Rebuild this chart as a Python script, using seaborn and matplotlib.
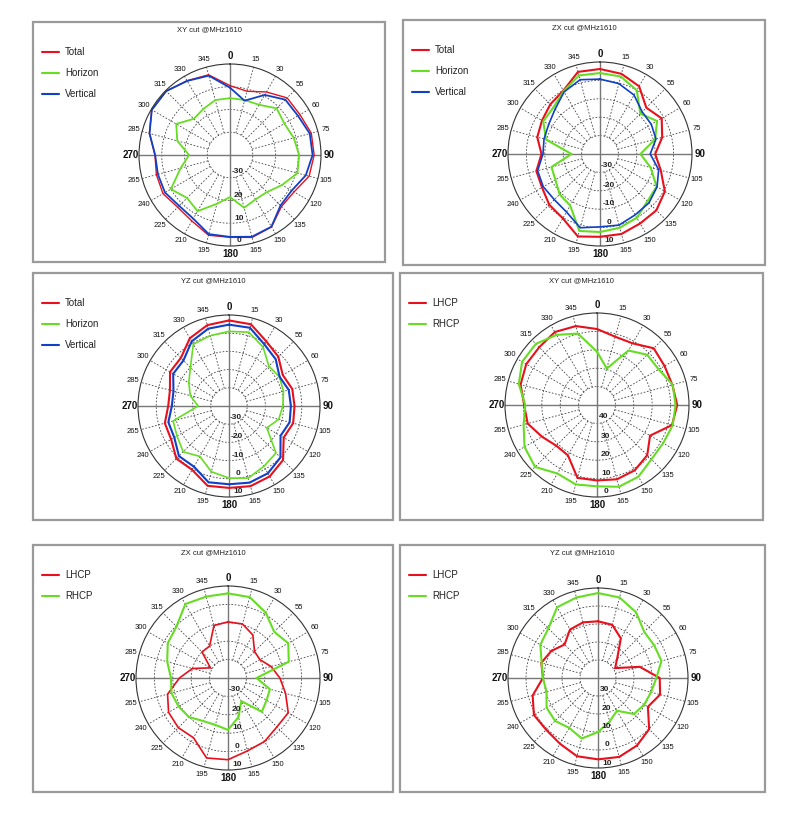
import numpy as np
import pandas as pd
import matplotlib
matplotlib.use("Agg")
import matplotlib.pyplot as plt
import seaborn as sns
from matplotlib.patches import Rectangle

sns.set_style("white")
plt.rcParams['font.family'] = ['Liberation Sans', 'DejaVu Sans']

angles = list(range(0, 360, 15))
angle_labels = ["0", "15", "30", "55", "60", "75", "90", "105", "120", "135", "150", "165",
                "180", "195", "210", "225", "240", "265", "270", "285", "300", "315", "330", "345"]

# Panel 1: XY cut, linear
xy_total = [-9.5, -11, -8, -4.5, -4.5, -3, -3, -4, -7.5, -8, -3.5, -2.5,
            -3.8, -3.5, -6.5, -7.5, -6, -6.5, -7, -3.3, -0.3, -0.3, -2.3, -3.5]
xy_horizon = [-15, -15, -14.5, -11, -12.4, -11, -9.6, -9.3, -13.6, -17, -17.5, -16,
              -21.5, -17.8, -11.5, -13.3, -10, -17.5, -22, -16, -12.7, -17.5, -16.6, -15]
xy_vertical = [-10.4, -15.3, -9.5, -5.6, -5.5, -3.7, -3.7, -5.5, -8.7, -8.6, -3.6, -2.8,
               -4, -4, -7.7, -8.4, -7, -7.2, -7.1, -3.4, -0.3, -0.3, -2.4, -3.9]
# Panel 2: ZX cut, linear
zx_total = [6.2, 5.1, 2.5, -4.4, -1.3, -5, -10, -5.8, 0.7, 3.3, 3.6, 5,
            5, 6.4, 0.4, -1, -3.6, -4.2, -8.2, -4.7, -3.6, -1.8, -0.2, 6.2]
zx_horizon = [4, 3.6, 0, -9, -4.2, -9, -18, -11.5, -4.5, -3.6, 0, 1.5,
              2.4, 3.3, -7.6, -9, -12, -12.7, -24.5, -9.6, -4.4, -4.2, -0.5, 4.2]
zx_vertical = [0.7, -0.4, -3, -7.6, -7.8, -8.5, -12.7, -7, -4.2, -2.4, -1.8, 0,
               -0.4, 1.5, -3.6, -4.9, -4.4, -4.9, -9, -8.5, -7.8, -5.5, -1, 1.8]
# Panel 3: YZ cut, linear
yz_total = [7, 6.5, 1, -1.7, -5.9, -4, -4, -3.5, -5.3, 2, 4.7, 5.6,
            5, 5.4, 0.5, 0.9, -3.3, -3.5, -6.6, -6.4, -2.6, -2.6, 3, 6]
yz_horizon = [1, 2, -2.6, -9, -8, -9, -10.4, -11.7, -16, -3.5, -1.7, 1,
              -0.4, -2.6, -8, -4.4, -7, -8.2, -23, -18, -14.5, -10, -0.8, 0]
yz_vertical = [4.7, 4.5, -1, -3.7, -7.9, -6, -6, -5.5, -7.3, 0, 2.7, 3.6,
               3, 3.4, -1.5, -1.1, -5.3, -5.5, -8.6, -8.4, -4.6, -4.6, 1, 4]
# Panel 4: XY cut, circular
xy_lhcp = [-8.7, -11.6, -11.3, -6.4, -7.6, -7.6, -6.4, -7.8, -16.7, -11.4, -9, -8.2,
           -9, -9, -18.4, -18.7, -15.5, -11, -10.4, -7, -5.6, -5.6, -4.2, -5.6]
xy_rhcp = [-21, -29.5, -15.8, -11.4, -11.3, -7.4, -7.3, -7.4, -8.5, -8.2, -5, -4,
           -5.8, -5.3, -7, -2.4, -4.5, -8.7, -11, -6, -3, -3, -6, -9.8]
# Panel 5: ZX cut, circular
zx_lhcp = [-9.5, -9.6, -13, -19.6, -20, -15.8, -11.8, -7.6, -2.2, -2.4, -0.2, 1,
           4.4, 5, -2.5, -1.8, -2.7, -6, -13.6, -20, -29, -20, -20, -10.5]
zx_rhcp = [6, 5.5, 1, -4.5, -2.2, -5.8, -24.5, -16.4, -15.8, -14, -25.5, -18,
           -11.8, -13.6, -13, -10, -9, -8.2, -9, -5.8, -2.2, -0.4, 6.4, 5.8]
# Panel 6: YZ cut, circular
yz_lhcp = [-8.5, -9.4, -14.6, -25, -29, -16, -5.7, -4.3, -8, 0.2, 3.3, 5.4,
           5.2, 5, 2.2, 0.7, 1.1, -2.4, -9.4, -7.4, -10, -13.7, -8.9, -8]
yz_rhcp = [7.2, 6.3, 2.2, -3.7, -3.9, -3.5, -7.6, -9.5, -10.4, -11.7, -19, -15,
           -10, -5.2, -8, -6.3, -7, -10.4, -9.4, -7.6, -3, -1, 5.4, 6.3]

RED, GREEN, BLUE = "#e8101c", "#66dd22", "#1040c8"

panels = [
    dict(title="XY cut @MHz1610", box=(33, 22, 352, 240), c=(230, 155), R=91,
         rlim=(-40, 0), rlabels=["-30", "20", "10", "0"],
         series=[("Total", xy_total, RED, 1.0), ("Horizon", xy_horizon, GREEN, 1.3),
                 ("Vertical", xy_vertical, BLUE, 1.3)]),
    dict(title="ZX cut @MHz1610", box=(403, 20, 362, 245), c=(600, 154), R=92,
         rlim=(-40, 10), rlabels=["-30", "-20", "-10", "0", "10"],
         series=[("Total", zx_total, RED, 1.5), ("Horizon", zx_horizon, GREEN, 1.5),
                 ("Vertical", zx_vertical, BLUE, 1.2)]),
    dict(title="YZ cut @MHz1610", box=(33, 273, 360, 247), c=(229, 406), R=91,
         rlim=(-40, 10), rlabels=["-30", "-20", "-10", "0", "10"],
         series=[("Total", yz_total, RED, 1.5), ("Horizon", yz_horizon, GREEN, 1.2),
                 ("Vertical", yz_vertical, BLUE, 1.5)]),
    dict(title="XY cut @MHz1610", box=(400, 273, 363, 247), c=(597, 405), R=92,
         rlim=(-50, 0), rlabels=["40", "30", "20", "10", "0"],
         series=[("LHCP", xy_lhcp, RED, 1.5), ("RHCP", xy_rhcp, GREEN, 1.5)]),
    dict(title="ZX cut @MHz1610", box=(33, 545, 360, 247), c=(228, 678), R=92,
         rlim=(-40, 10), rlabels=["-30", "20", "10", "0", "10"],
         series=[("LHCP", zx_lhcp, RED, 1.2), ("RHCP", zx_rhcp, GREEN, 1.5)]),
    dict(title="YZ cut @MHz1610", box=(400, 545, 365, 247), c=(598, 678), R=90,
         rlim=(-40, 10), rlabels=["30", "20", "10", "0", "10"],
         series=[("LHCP", yz_lhcp, RED, 1.5), ("RHCP", yz_rhcp, GREEN, 1.5)]),
]

W, H = 800, 816
fig = plt.figure(figsize=(W / 100, H / 100), dpi=100)
fig.patch.set_facecolor("white")

for p in panels:
    bx, by, bw, bh = p["box"]
    fig.patches.append(Rectangle((bx / W, 1 - (by + bh) / H), bw / W, bh / H,
                                 transform=fig.transFigure, fill=False,
                                 edgecolor="#9a9a9a", linewidth=1.6))
    fig.text((bx + bw / 2) / W, 1 - (by + 8) / H, p["title"], fontsize=5.5,
             ha="center", va="center", color="#222222")
    for i, (name, vals, col, lw) in enumerate(p["series"]):
        ly = by + 30 + 21 * i
        fig.lines.append(plt.Line2D([(bx + 9) / W, (bx + 26) / W], [1 - ly / H, 1 - ly / H],
                                    transform=fig.transFigure, color=col, lw=1.5))
        fig.text((bx + 32) / W, 1 - ly / H, name, fontsize=7, va="center", color="#222222")

    cx, cy = p["c"]
    R = p["R"]
    ax = fig.add_axes([(cx - R) / W, 1 - (cy + R) / H, 2 * R / W, 2 * R / H], projection="polar")
    ax.set_theta_zero_location("N")
    ax.set_theta_direction(-1)
    rmin, rmax = p["rlim"]
    ax.set_ylim(rmin, rmax)
    ax.grid(False)
    ax.set_xticks([])
    ax.set_yticks([])
    ax.spines["polar"].set_linewidth(0.8)
    ax.spines["polar"].set_color("#333333")
    ax.set_facecolor("white")
    # rings
    tt = np.linspace(0, 2 * np.pi, 300)
    for rv in range(rmin + 10, rmax, 10):
        ax.plot(tt, np.full_like(tt, rv), ls=(0, (2, 2)), color="#444444", lw=0.6)
    for a in angles:
        th = np.deg2rad(a)
        if a % 90 == 0:
            ax.plot([th, th], [rmin, rmax], color="#777777", lw=1.0)
        else:
            ax.plot([th, th], [rmin + 10, rmax], ls=(0, (2, 2)), color="#444444", lw=0.6)
    for a, lab in zip(angles, angle_labels):
        th = np.deg2rad(a)
        big = a % 90 == 0
        ax.text(th, rmax + (rmax - rmin) * 0.09, lab, ha="center", va="center",
                fontsize=7 if big else 5.5, fontweight="bold" if big else "normal",
                color="#111111", clip_on=False)
    for rv, lab in zip(range(rmin + 10, rmax + 1, 10), p["rlabels"]):
        frac = (rv - rmin) / (rmax - rmin)
        ax.text(np.deg2rad(180 - 20 / max(frac, 0.2) * 0.3), rv - (rmax - rmin) * 0.05, lab,
                ha="center", va="center", fontsize=6, fontweight="bold", color="#222222")
    for name, vals, col, lw in p["series"]:
        th = np.deg2rad(np.array(angles + [angles[0]], dtype=float))
        rv = np.array(vals + [vals[0]], dtype=float)
        df = pd.DataFrame({"theta": th, "r": rv, "order": np.arange(len(th))})
        sns.lineplot(data=df, x="theta", y="r", ax=ax, sort=False, estimator=None,
                     color=col, lw=lw)
    ax.set_xlabel("")
    ax.set_ylabel("")
    ax.set_ylim(rmin, rmax)
    ax.set_xticks([])
    ax.set_yticks([])

fig.savefig("out.png", dpi=100, facecolor="white")
